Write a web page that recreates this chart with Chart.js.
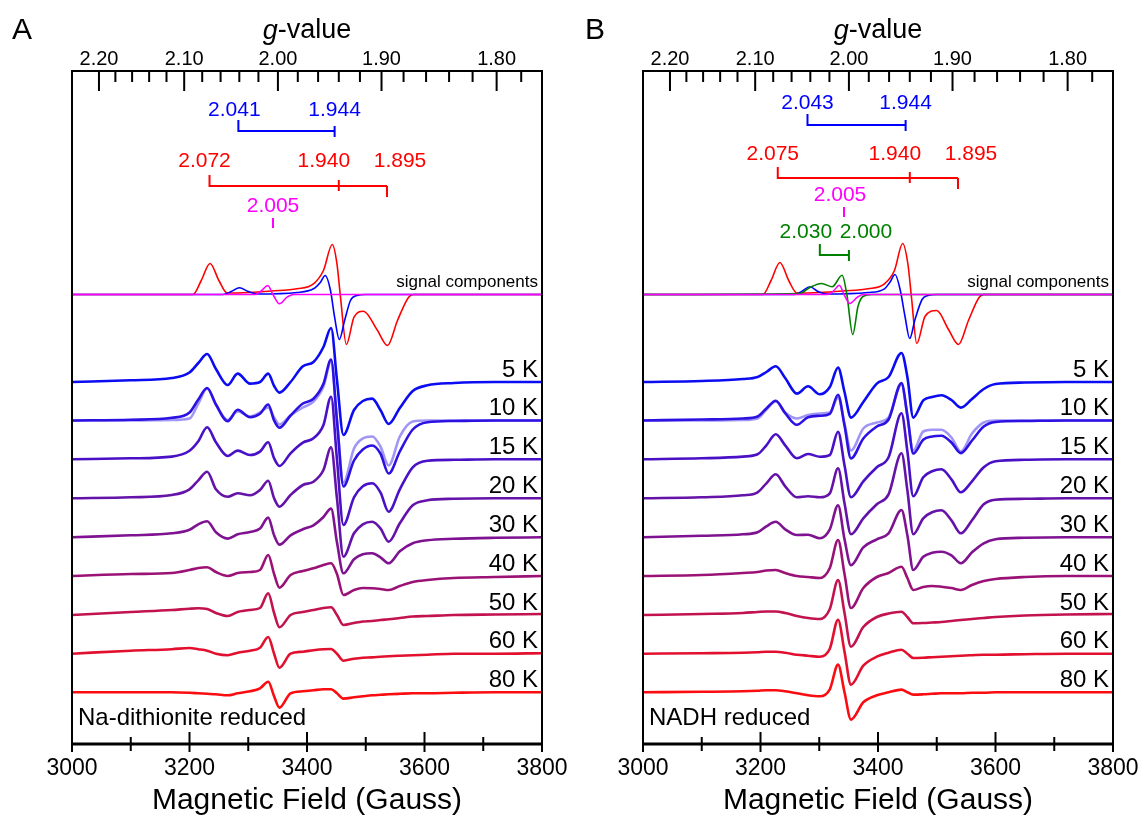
<!DOCTYPE html>
<html>
<head>
<meta charset="utf-8">
<script src="https://cdn.jsdelivr.net/npm/chart.js@4.4.1/dist/chart.umd.min.js"></script>
<style>
  html, body { margin: 0; padding: 0; background: #fff; }
  #wrap { position: relative; width: 1148px; height: 820px; }
  canvas { position: absolute; top: 0; }
  #panelA { left: 0; }
  #panelB { left: 574px; }
</style>
</head>
<body>
<div id="wrap">
  <canvas id="panelA" width="574" height="820"></canvas>
  <canvas id="panelB" width="574" height="820"></canvas>
</div>
<script>
// field (G) = G_CONST / g   (X-band, ~9.38 GHz)
const G_CONST = 6701;
const FONT = '"Liberation Sans", Arial, sans-serif';

// ---- axes ----
const fieldMajor = [3000, 3200, 3400, 3600, 3800];
const fieldMinor = [3100, 3300, 3500, 3700];
const gMajor = [2.20, 2.10, 2.00, 1.90, 1.80];
const gMinor = [2.18, 2.16, 2.14, 2.12, 2.08, 2.06, 2.04, 2.02, 1.98, 1.96, 1.94, 1.92, 1.88, 1.86, 1.84, 1.82, 1.78];

// ---- temperatures, stacking baselines (arb. units) ----
const temps = ['5 K', '10 K', '15 K', '20 K', '30 K', '40 K', '50 K', '60 K', '80 K'];
const baselines = [362, 323.5, 284.7, 245.7, 206.7, 168, 129, 90.3, 51.7];
const compBase = 449.5;
const tempColors = ['#0c0cf2', '#2c12e2', '#4a10c6', '#6412a8', '#7e1290', '#9a1276', '#c21250', '#e2102e', '#fa0c10'];

// ---- panel A : Na-dithionite reduced ----
const fieldA = [3000, 3100, 3170, 3200, 3215, 3230, 3245, 3265, 3282, 3303, 3320, 3334, 3344, 3353, 3372, 3393,
                3411, 3428, 3441, 3451, 3462, 3480, 3495, 3511, 3525, 3539, 3558, 3580, 3605, 3650, 3720, 3800];
const a5K  = [0, 1.7, 4, 9.5, 19, 28, 13, -3, 8.4, -1.6, 0, 8.4, -4, -10.6, 0, 15.7, 20, 35, 54, 2, -53, -28, -19, -16.6, -28, -42, -26, -9, -3.3, -1, 0, 0];
const a10K = [0, 0.7, 2.7, 8, 21, 32.5, 16, -0.7, 10.7, 3.3, 6.7, 16, 0, -7.3, 5, 17, 21.7, 36.7, 61, 0, -66, -40, -29, -25, -33, -53, -31, -9, -1.7, -0.5, 0, 0];
const aSim10K = [0, 0, 0.5, 2, 17, 32, 16, 0.5, 9, 4, 8, 13, 3, -4, 5, 13, 19, 34, 59, 0, -62, -28, -18, -16, -26, -45, -16, -1, 0, 0, 0, 0];
const a15K = [0, 1, 2.7, 8.5, 18, 32, 17, 3.3, 8.7, 4.3, 7.7, 17, 1, -6.7, 6, 16.7, 21, 34.3, 62.6, 0, -65.7, -38, -27, -24, -33, -52.4, -30, -8, -1.5, -0.5, 0, 0];
const a20K = [0, 1, 3.3, 9, 18, 26.6, 9, 1.6, 5, 3, 8.3, 17.6, 0, -8.4, 3.3, 13.3, 16.6, 28.3, 51, 0, -58.4, -35, -26, -23.4, -30, -43.4, -25, -7, -2, -0.5, 0, 0];
const a30K = [0, 2, 4, 7.5, 13, 16, 5, -1.3, 3, 5.3, 8.7, 19.7, 2, -7.3, 2, 8, 12, 20.3, 28.7, -5, -36, -22, -17, -16, -20, -26, -14, -6, -3, -1.5, -0.5, 0];
const a40K = [0, 2, 3, 6, 8, 8.7, 4, 0, 3, 4, 6, 21, 2, -11.7, 1, 5, 7.7, 11, 12.7, 2, -19, -14, -12, -12.3, -13, -14, -10, -6, -4, -2, -1, 0];
const a50K = [0, 3, 5, 6.3, 6.7, 6, 2, -1, 3, 5, 7, 21.7, 2, -12.3, 0, 3, 5, 7, 7.7, 0, -10, -8, -6.5, -6, -5, -4.3, -3, -1.5, -1, 0, 0.5, 1];
const a60K = [0, 3, 4.5, 5.7, 4.5, 3, 0, -1.5, 1, 3, 6, 16.7, 0, -14, 0, 2, 3.5, 4.5, 4.7, 0, -7, -5, -4, -3.7, -3, -2.5, -2, -1.5, -1, 0, 0, 0.5];
const a80K = [0, 0, 0, -0.5, -1, -1.5, -2, -3, -1, 1, 4, 10.5, -4, -15.3, -1, 1, 2, 3, 3, -1, -6.3, -5, -4, -3, -2.5, -2, -1.5, -1, -1, -0.5, 0, 0];

// simulated signal components, panel A
const redFieldA = [3000, 3206, 3220, 3235, 3250, 3264, 3300, 3340, 3383, 3411, 3428, 3443, 3451, 3457, 3467, 3480, 3496, 3520, 3537, 3554, 3573, 3582, 3800];
const redA      = [0, 0, 14, 31, 14, 1.5, 2, 3.5, 5.7, 10.7, 24, 50, 30.7, -2.7, -50, -22.7, -16.7, -36, -51, -26, -2.7, 0, 0];
const blueFieldA = [3000, 3257, 3271, 3285, 3300, 3315, 3383, 3411, 3423, 3431, 3440, 3447, 3455, 3464, 3474, 3485, 3500, 3800];
const blueA      = [0, 0, 3, 6.7, 3, 0.5, 2, 5.7, 12.3, 19, 4, -22.7, -45, -26, -6, -1, 0, 0];
const magFieldA = [3000, 3312, 3323, 3333, 3343, 3353, 3366, 3377, 3800];
const magA      = [0, 0, 4, 9, -1, -9.3, -2.7, 0, 0];

// g-value markers, panel A
const gBlueA = [2.041, 1.944];
const gRedA = [2.072, 1.940, 1.895];
const gMagA = [2.005];

// ---- panel B : NADH reduced ----
const fieldB = [3000, 3100, 3170, 3195, 3210, 3226, 3242, 3262, 3281, 3301, 3318, 3332, 3343, 3354, 3375, 3398,
                3418, 3440, 3450, 3460, 3477, 3492, 3508, 3525, 3541, 3560, 3580, 3600, 3650, 3720, 3800];
const b5K  = [0, 1, 3, 5, 10, 15.7, 4, -11.6, -4.3, -12.3, -5, 14.4, -10, -35.6, -20, -1.6, 5, 29, 5, -35.6, -18.3, -15, -13.3, -18, -25.6, -17, -7, -2, -0.5, 0, 0];
const b10K = [0, 1, 2, 4, 12, 19.7, 7.3, -4.3, 3.3, 4.7, 6.7, 25.7, -5, -38, -18, -6, 1, 37.4, 5, -33, -19.3, -16, -15.3, -22, -32.6, -20, -6, -1.5, -0.5, 0, 0];
const bSim10K = [0, 0, 0.5, 2, 11, 19, 8, 2, 5.5, 7, 8, 23, -3, -30, -8, -2, 3, 36, 5, -30, -11, -9.3, -9.3, -17, -31, -13, -2, 0, 0, 0, 0];
const b15K = [0, 1, 2.7, 5, 14, 25, 14, 1, 5.3, 2.5, 4.3, 27.6, -6, -38, -22, -8, 2, 46, 8, -37, -18, -12, -10, -20, -33, -22, -8, -2, -0.5, 0, 0];
const b20K = [0, 1, 3, 6, 15, 24, 12, 1, 2, 1, 5, 30, -5, -36, -20, -6, 4, 45, 8, -36, -20, -14, -12, -22, -35, -22, -6, -1.5, -0.5, 0, 0];
const b30K = [0, 1.5, 3, 5, 11, 15.6, 8, 2.3, 2.5, -1, 8, 32, -2, -28, -10, -2, 4, 27.3, 2, -32.7, -19.4, -15.5, -14.4, -18, -26, -15, -6, -2, -0.5, 0, 0];
const b40K = [0, 1, 3, 4, 5.5, 6, 3, 0, -1, -2, 8, 36, 2, -32, -12, -1, 3, 9.3, -2, -14, -11, -10, -10.7, -12, -14, -9, -5, -3, -1, 0, 0];
const b50K = [0, 1, 2, 3, 3.5, 3.5, 2, -1, -3, -4, 6, 35, 2, -31.7, -12, -2, 1.5, 3.3, -2, -8.3, -8, -7.5, -7, -6, -5, -4, -3, -2, -0.5, 0.5, 1];
const b60K = [0, 0.5, 1, 1.5, 2, 2, 1, -1, -2, -3, 5, 34, 2, -31, -12, -3, 1, 4, 0, -4.3, -4, -3.5, -3, -2.5, -2, -1.5, -1, -1, -0.5, 0, 0];
const b80K = [0, 0.5, 1, 1.5, 2, 2, 1, -1, -3, -4, 3, 27.7, 0, -27.3, -10, -3, 0, 2.7, 0, -2.3, -2, -1.5, -1, -1, -1, -0.5, -0.5, 0, 0, 0, 0];

// simulated signal components, panel B
const redFieldB = [3000, 3204, 3218, 3233, 3248, 3262, 3300, 3340, 3383, 3411, 3428, 3442, 3451, 3457, 3466, 3480, 3500, 3520, 3537, 3554, 3572, 3580, 3800];
const redB      = [0, 0, 14, 32, 14, 1.5, 2, 3.5, 5.7, 10.7, 24, 51, 30, -3, -49, -22, -16, -35, -50, -26, -3, 0, 0];
const blueFieldB = [3000, 3257, 3270, 3284, 3298, 3312, 3383, 3411, 3420, 3429, 3438, 3446, 3454, 3463, 3475, 3485, 3500, 3800];
const blueB      = [0, 0, 3, 7.7, 3, 0.5, 2, 5.7, 12, 20, 4, -22, -44, -25, -5, -1, 0, 0];
const greenFieldB = [3000, 3267, 3284, 3304, 3322, 3339, 3347, 3357, 3366, 3375, 3390, 3800];
const greenB      = [0, 1, 7, 11, 7.7, 19.3, 0, -40, -11.7, -1.7, 0, 0];
const magFieldB = [3000, 3314, 3325, 3334, 3343, 3352, 3365, 3375, 3800];
const magB      = [0, 0, 4, 9.3, -1, -9, -2.7, 0, 0];

// g-value markers, panel B
const gBlueB = [2.043, 1.944];
const gRedB = [2.075, 1.940, 1.895];
const gMagB = [2.005];
const gGreenB = [2.030, 2.000];

function toPoints(fields, amps, base) {
  return fields.map((f, i) => ({ x: f, y: base + amps[i] }));
}

function line(data, color, width, order) {
  return { data, borderColor: color, borderWidth: width, order, fill: false, pointRadius: 0 };
}

// draws frame, inward g ticks, crossing field ticks and all the labels
function overlayPlugin(p) {
  return {
    id: 'overlay',
    afterDatasetsDraw(chart) {
      const { ctx, chartArea: a, scales } = chart;
      const x = scales.x, y = scales.y;
      ctx.save();
      ctx.strokeStyle = '#000';
      ctx.lineWidth = 2;
      ctx.strokeRect(a.left, a.top, a.right - a.left, a.bottom - a.top);
      ctx.lineWidth = 3;
      ctx.beginPath();
      ctx.moveTo(a.left, a.bottom); ctx.lineTo(a.right, a.bottom);
      ctx.stroke();

      ctx.lineWidth = 2;
      ctx.beginPath();
      gMajor.forEach(g => { const px = x.getPixelForValue(G_CONST / g); ctx.moveTo(px, a.top); ctx.lineTo(px, a.top + 20); });
      gMinor.forEach(g => { const px = x.getPixelForValue(G_CONST / g); ctx.moveTo(px, a.top); ctx.lineTo(px, a.top + 11); });
      fieldMajor.forEach(v => { const px = x.getPixelForValue(v); ctx.moveTo(px, a.bottom - 12); ctx.lineTo(px, a.bottom + 8); });
      fieldMinor.forEach(v => { const px = x.getPixelForValue(v); ctx.moveTo(px, a.bottom - 7); ctx.lineTo(px, a.bottom + 7); });
      ctx.stroke();

      // g-value markers
      ctx.textAlign = 'center';
      ctx.textBaseline = 'middle';
      ctx.font = '21px ' + FONT;
      p.markers.forEach(m => {
        const xs = m.g.map(g => x.getPixelForValue(G_CONST / g));
        ctx.strokeStyle = m.color;
        ctx.fillStyle = m.color;
        ctx.beginPath();
        if (xs.length === 1) {
          ctx.moveTo(xs[0], m.line - 10); ctx.lineTo(xs[0], m.line);
        } else {
          ctx.moveTo(xs[0], m.line - 11); ctx.lineTo(xs[0], m.line); ctx.lineTo(xs[xs.length - 1], m.line);
          for (let i = 1; i < xs.length - 1; i++) { ctx.moveTo(xs[i], m.line - 6); ctx.lineTo(xs[i], m.line + 5); }
          const last = xs[xs.length - 1];
          if (xs.length > 2) { ctx.moveTo(last, m.line); ctx.lineTo(last, m.line + 11); }
          else { ctx.moveTo(last, m.line - 5); ctx.lineTo(last, m.line + 6); }
        }
        ctx.stroke();
        m.g.forEach((g, i) => {
          const dx = m.dx ? m.dx[i] : 0;
          ctx.fillText(g.toFixed(3), xs[i] + dx, m.text);
        });
      });

      // temperature labels
      ctx.fillStyle = '#000';
      ctx.textAlign = 'right';
      ctx.font = '24px ' + FONT;
      temps.forEach((t, i) => ctx.fillText(t, a.right - 4, y.getPixelForValue(baselines[i]) - 12));
      ctx.font = '17px ' + FONT;
      ctx.fillText('signal components', a.right - 4, y.getPixelForValue(compBase) - 12);

      ctx.textAlign = 'left';
      ctx.font = '24px ' + FONT;
      ctx.fillText(p.note, a.left + 6, 718);

      // axis titles
      const cx = (a.left + a.right) / 2;
      ctx.textAlign = 'center';
      ctx.font = '30px ' + FONT;
      ctx.fillText('Magnetic Field (Gauss)', cx, 801);
      ctx.font = 'italic 27px ' + FONT;
      const w1 = ctx.measureText('g').width;
      ctx.font = '27px ' + FONT;
      const w2 = ctx.measureText('-value').width;
      ctx.textAlign = 'left';
      ctx.font = 'italic 27px ' + FONT;
      ctx.fillText('g', cx - (w1 + w2) / 2, 31);
      ctx.font = '27px ' + FONT;
      ctx.fillText('-value', cx - (w1 + w2) / 2 + w1, 31);

      // panel letter
      ctx.font = '30px ' + FONT;
      ctx.fillText(p.letter, p.letterX, 31);
      ctx.restore();
    }
  };
}

function noLabelPadding(s, h) {
  s.height = h;
  s.paddingLeft = 0;
  s.paddingRight = 0;
}

function makePanel(id, p) {
  const datasets = [];
  p.spectra.forEach((amps, i) => {
    datasets.push(line(toPoints(p.field, amps, baselines[i]), tempColors[i], 2.6, 10 + i));
  });
  datasets.push(line(toPoints(p.field, p.sim10K, baselines[1]), 'rgb(160,150,245)', 2.6, 40));
  p.components.forEach((c, i) => {
    datasets.push(line(toPoints(c.field, c.amps, compBase), c.color, 1.6, i));
  });

  new Chart(document.getElementById(id), {
    type: 'line',
    data: { datasets },
    options: {
      responsive: false,
      animation: false,
      devicePixelRatio: 1,
      layout: { padding: { left: p.padLeft, right: p.padRight, top: 0, bottom: 0 } },
      elements: { line: { cubicInterpolationMode: 'monotone', borderJoinStyle: 'round', borderCapStyle: 'round' } },
      plugins: { legend: { display: false }, tooltip: { enabled: false } },
      scales: {
        x: {
          type: 'linear', position: 'bottom', min: 3000, max: 3800,
          ticks: { stepSize: 200, callback: v => String(v), color: '#000', font: { family: FONT, size: 23 },
                   padding: 11, maxRotation: 0 },
          grid: { display: false, drawTicks: false },
          border: { display: false },
          afterFit: s => noLabelPadding(s, 76)
        },
        g: {
          type: 'linear', position: 'top', min: 3000, max: 3800,
          afterBuildTicks: s => { s.ticks = gMajor.map(g => ({ value: G_CONST / g })); },
          ticks: { callback: v => (G_CONST / v).toFixed(2), color: '#000', font: { family: FONT, size: 20 },
                   padding: 0, autoSkip: false, maxRotation: 0 },
          grid: { display: false, drawTicks: false },
          border: { display: false },
          afterFit: s => noLabelPadding(s, 71)
        },
        y: { display: false, min: 0, max: 673 }
      }
    },
    plugins: [overlayPlugin(p)]
  });
}

makePanel('panelA', {
  letter: 'A', letterX: 12, note: 'Na-dithionite reduced', padLeft: 72, padRight: 32,
  field: fieldA,
  spectra: [a5K, a10K, a15K, a20K, a30K, a40K, a50K, a60K, a80K],
  sim10K: aSim10K,
  components: [
    { field: magFieldA, amps: magA, color: '#ff00ff' },
    { field: blueFieldA, amps: blueA, color: '#0000ff' },
    { field: redFieldA, amps: redA, color: '#ff0000' }
  ],
  markers: [
    { g: gBlueA, color: '#0000ff', line: 131, text: 110, dx: [-4, 0] },
    { g: gRedA, color: '#ff0000', line: 186, text: 161, dx: [-5, -15, 13] },
    { g: gMagA, color: '#ff00ff', line: 228, text: 206, dx: [0] }
  ]
});

makePanel('panelB', {
  letter: 'B', letterX: 11, note: 'NADH reduced', padLeft: 69, padRight: 35,
  field: fieldB,
  spectra: [b5K, b10K, b15K, b20K, b30K, b40K, b50K, b60K, b80K],
  sim10K: bSim10K,
  components: [
    { field: magFieldB, amps: magB, color: '#ff00ff' },
    { field: greenFieldB, amps: greenB, color: '#008000' },
    { field: blueFieldB, amps: blueB, color: '#0000ff' },
    { field: redFieldB, amps: redB, color: '#ff0000' }
  ],
  markers: [
    { g: gBlueB, color: '#0000ff', line: 125, text: 103, dx: [0, 0] },
    { g: gRedB, color: '#ff0000', line: 178, text: 154, dx: [-5, -15, 13] },
    { g: gMagB, color: '#ff00ff', line: 217, text: 195, dx: [-4] },
    { g: gGreenB, color: '#008000', line: 255, text: 232, dx: [-14, 17] }
  ]
});
</script>
</body>
</html>
